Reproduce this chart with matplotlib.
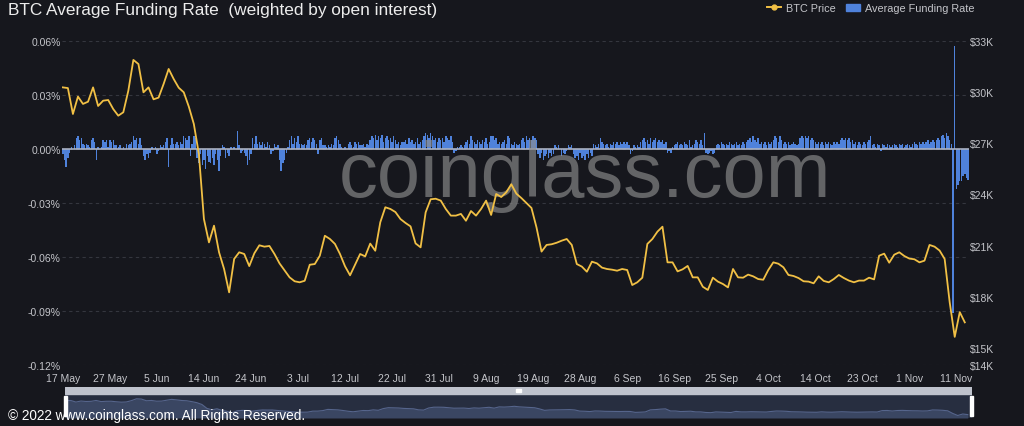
import matplotlib
matplotlib.use("Agg")
import matplotlib.pyplot as plt
import numpy as np
from matplotlib.lines import Line2D
from matplotlib.patches import Patch, Rectangle

# funding rate, one bar per 8h, in units of 0.001 %
funding_a = [
    -3, -6, -10, -5, -2, 1, 0, 2, 6, 7, 5, 6, 3, 2, 3, 2, 1, 5, 6, 4, -6, 1, 0, 1,
    5, 4, 5, 1, 5, 4, 5, 2, 2, 1, 2, 0, 1, 0, 3, 2, 3, 4, 7, 5, 6, 3, 6, 2,
    -4, -6, -3, -5, -2, 1, 0, 1, -3, -1, 2, 1, 2, 4, 6, -10, 2, 6, 3, 3, 4, 2, 4, 3,
    7, 6, 5, 7, -4, 3, 7, 6, -5, -8, -3, -9, -6, -11, -4, -7, -8, -5, -9, -3,
    -6, -12, -4, 2, 1, -5, -2, -4, 1, 0, 1, 0, 10, 2, -2, -1, -2, -4, -9, -6, -3,
    6, 3, 7, 3, 4, 2, 4, 3, 1, 4, 2, -3, -1, 3, 1, 2, -6, -12, -8, -6, -2, 1,
    5, 7, 3, 6, 4, 7, 3, 3, 2, 3, 2, 5, 6, 4, 6, 5, 3, -3, 5, 6, 2, 2, 1, 2, 1, 3, 2,
    6, 7, 5, 3, 1, 0, 1, 0, 3, 4, 2, 1, 4, 3, 4, 2,
]
funding_b = [
    2, 3, 1, 3, 2, 5, 7, 6, 8, 5, 7, 6, 8, 4, 6, 7, 5, 6, 4, 7, 5, 3, 4, 2, 4,
    4, 5, 3, 6, 4, 5, 3, 4, 6, 3, 4, 5, 7, 9, 8, 6, 9, 7, 5, 6, 4, 6, 5, 6, 4,
    7, 6, 5, 7, 4, -2, -1, 1, 1, 2, 1, 2, 4, 5, 3, 7, 5, 4, 3, 5, 4, 3, 5, 4, 6, 3, 4, 7,
    7, 5, 6, 3, 4, 3, 4, 5, 3, 7, 6, 3, 2, 4, 3, 2, 3, 5, 6, 4, 7, 5, 6, 5, 7, 6, 5,
    -3, -5, -2, -6, -4, -3, -5, -2, -4, -3, 2, 1, 2, 0, -4, -2, -3, -1, 2, 1, 2,
    -3, -5, -4, -6, -2, -5, -4, -6, -3, -5, -2, -4, 3, 2, 1, 3, 6, 4, 3, 2, 3, 1, 3, 2,
    4, 3, 4, 2, 4, 3, 4, 3, 4, 2, -3, -1, 2, 1, 2, 1, 4, 5, 6, 4, 5, 3, 6, 4, 5, 6, 4, 5,
]
funding_c = [
    4, 5, 3, 4, -2, -1, -2, 1, 2, 3, 4, 2, 3, 2, 4, 3, 2, 5, 1, 2, 3, 5, 4, 3, 5, 2, 9,
    -2, -3, -2, -1, -3, -2, 2, 3, 2, 4, 3, 2, 3, 2, 4, 3, 2, 3, 4, 2, 3, 2, 4, 3,
    4, 5, 6, 4, 7, 5, 4, 6, 3, 4, 3, 4, 2, 4, 3, 4, 5, 7, 6, 4, 7, 5, 3, 4,
    3, 4, 2, 3, 4, 3, 2, 3, 6, 7, 6, 7, 6, 7, 5, 6, 5, 4,
    3, 4, 3, 4, 2, 4, 3, 4, 3, 2, 4, 3, 4, 3, 5, 6, 5, 6, 5, 6, 4, 5,
    3, 4, 2, 4, 3, 2, 4, 3, 4, 5, 7, 2, 3, 1, 3, 2, -1, 3, 2, 1, 3, 2, 1,
    2, 3, 2, 1, 3, 2, 3, 1, 2, 3, 2, 1, 3, 4, 3, 2, 4, 3, 4, 3, 4, 5, 3, 4, 5, 4,
    5, 6, 5, 7, 8, 6, 9, 7, 5, 3, -91, 57, -22, -20, -18, -18, -15, -14, -16, -17,
]

# BTC price, one value per day (USD)
btc_price = [
    30280, 30240, 28720, 29740, 29310, 29440, 30280, 29190, 29500, 29540,
    29010, 28620, 28820, 30090, 31890, 31650, 29990, 30280, 29580, 29680,
    30480, 31360, 30770, 30260, 29990, 29150, 28130, 26370, 22560, 21190,
    22170, 20610, 19630, 18260, 20220, 20610, 20510, 19800, 20550, 21020,
    20940, 20980, 20510, 19960, 19550, 19140, 18910, 18850, 18940, 19880,
    19920, 20410, 21580, 21390, 21100, 20510, 19790, 19260, 19880, 20510,
    20370, 21120, 20700, 22370, 23250, 23150, 22970, 22560, 22330, 22130,
    21130, 20900, 22950, 23720, 23750, 23640, 23150, 22760, 22760, 22860,
    22460, 23030, 22760, 23150, 23640, 22800, 24030, 23850, 24130, 24600,
    24050, 23790, 23500, 23210, 22070, 20650, 21040, 21080, 21170, 21290,
    21390, 21040, 19920, 19770, 19470, 20060, 19960, 19710, 19630, 19590,
    19530, 19630, 19570, 18690, 18850, 19120, 21100, 21390, 21820, 22110,
    20020, 20020, 19490, 19610, 19810, 19140, 19140, 18590, 18400, 19120,
    18890, 18750, 18550, 19630, 19140, 19120, 19300, 19200, 19040, 19000,
    19570, 20020, 19940, 19730, 19280, 19220, 19100, 18910, 18890, 18790,
    19200, 18930, 18850, 19040, 19280, 19100, 18950, 18850, 18950, 18950,
    19120, 19020, 20410, 20530, 20000, 20470, 20610, 20390, 20240, 20200,
    20020, 20120, 21040, 20940, 20710, 20220, 17680, 15650, 17100, 16500,
]

date_labels = [
    "17 May", "27 May", "5 Jun", "14 Jun", "24 Jun", "3 Jul", "12 Jul", "22 Jul",
    "31 Jul", "9 Aug", "19 Aug", "28 Aug", "6 Sep", "16 Sep", "25 Sep", "4 Oct",
    "14 Oct", "23 Oct", "1 Nov", "11 Nov",
]
rate_ticks = [-0.12, -0.09, -0.06, -0.03, 0.0, 0.03, 0.06]
price_ticks = [14000, 15000, 18000, 21000, 24000, 27000, 30000, 33000]

BG = "#16171d"
BAR = "#4f82db"
LINE = "#f1c045"
TXT = "#c4c5ca"
GRID = "#34363e"

plt.rcParams["font.family"] = ["Liberation Sans", "DejaVu Sans"]

funding = np.array(funding_a + funding_b + funding_c) / 1000.0
fx = np.arange(len(funding))
price = np.array(btc_price)
px = np.arange(len(price)) * 3  # 3 funding periods per day

W, H = 1024, 427
fig = plt.figure(figsize=(W / 100, H / 100), dpi=100)
fig.patch.set_facecolor(BG)

ax = fig.add_axes([62 / W, 1 - 366 / H, (969 - 62) / W, (366 - 42) / H])
ax.set_facecolor(BG)
for s in ax.spines.values():
    s.set_visible(False)

ax.bar(fx, funding, width=0.85, color=BAR, linewidth=0, zorder=2)
ax.axhline(0, color="#aab1c2", linewidth=1.2, zorder=2.5)
ax.set_xlim(-0.5, len(funding) - 0.5)
ax.set_ylim(rate_ticks[0], rate_ticks[-1])
ax.set_yticks(rate_ticks)
ax.set_yticklabels([f"{v:.2f}%" for v in rate_ticks])
ax.grid(axis="y", color=GRID, linestyle=(0, (3, 3)), linewidth=0.8)
ax.set_axisbelow(True)
ax.set_xticks(np.arange(len(date_labels)) * 28)
ax.set_xticklabels(date_labels)
ax.tick_params(axis="both", length=0, colors=TXT, labelsize=7.5)
ax.tick_params(axis="y", pad=1)
ax.tick_params(axis="x", pad=6)

ax.text(0.577, 0.522, "coinglass.com", transform=ax.transAxes, ha="center", va="baseline",
        fontsize=56, color="#8e8e8e", alpha=0.65, zorder=3)

ax2 = ax.twinx()
for s in ax2.spines.values():
    s.set_visible(False)
ax2.plot(px, price, color=LINE, linewidth=1.3, zorder=4)
ax2.set_ylim(14000, 33000)
ax2.set_yticks(price_ticks)
ax2.set_yticklabels([f"${v // 1000}K" for v in price_ticks])
ax2.tick_params(axis="y", length=0, colors=TXT, labelsize=7.5, pad=1)

fig.text(8 / W, 1 - 11 / H, "BTC Average Funding Rate  (weighted by open interest)",
         color="#ececec", fontsize=12.4, va="center", ha="left")

handles = [
    Line2D([0], [0], color=LINE, marker="o", markersize=3.5, linewidth=1.4),
    Patch(color=BAR),
]
fig.legend(handles, ["BTC Price", "Average Funding Rate"], loc="center right",
           bbox_to_anchor=(984 / W, 1 - 9 / H), ncol=2, frameon=False, fontsize=7.8,
           labelcolor=TXT, handlelength=1.3, handleheight=0.6, columnspacing=1.0,
           handletextpad=0.4)

# zoom slider at the bottom
axs = fig.add_axes([65 / W, 8 / H, (972 - 65) / W, 31 / H])
axs.set_facecolor(BG)
for s in axs.spines.values():
    s.set_visible(False)
axs.set_xticks([])
axs.set_yticks([])
axs.set_xlim(-0.5, len(funding) - 0.5)
axs.set_ylim(13200, 43400)
axs.add_patch(Rectangle((0, 0), 1, 0.76, transform=axs.transAxes, color="#272e40", zorder=0))
axs.fill_between(px, 13200, price, color="#3a4662", linewidth=0, zorder=1)
axs.plot(px, price, color="#56658c", linewidth=0.8, zorder=2)
axs.add_patch(Rectangle((0, 0.78), 1, 0.22, transform=axs.transAxes, color="#bfc3cd", zorder=3))
axs.add_patch(Rectangle((0.497, 0.85), 0.006, 0.08, transform=axs.transAxes, color="#ffffff", zorder=4))
for hx in (-0.0015, 0.9975):
    axs.add_patch(Rectangle((hx, 0.08), 0.004, 0.62, transform=axs.transAxes,
                            color="white", zorder=5, clip_on=False))

fig.text(8 / W, 1 - 416 / H, "\u00a9 2022 www.coinglass.com. All Rights Reserved.",
         color="white", fontsize=9.8, va="center", ha="left")

fig.savefig("out.png", dpi=100, facecolor=BG)
